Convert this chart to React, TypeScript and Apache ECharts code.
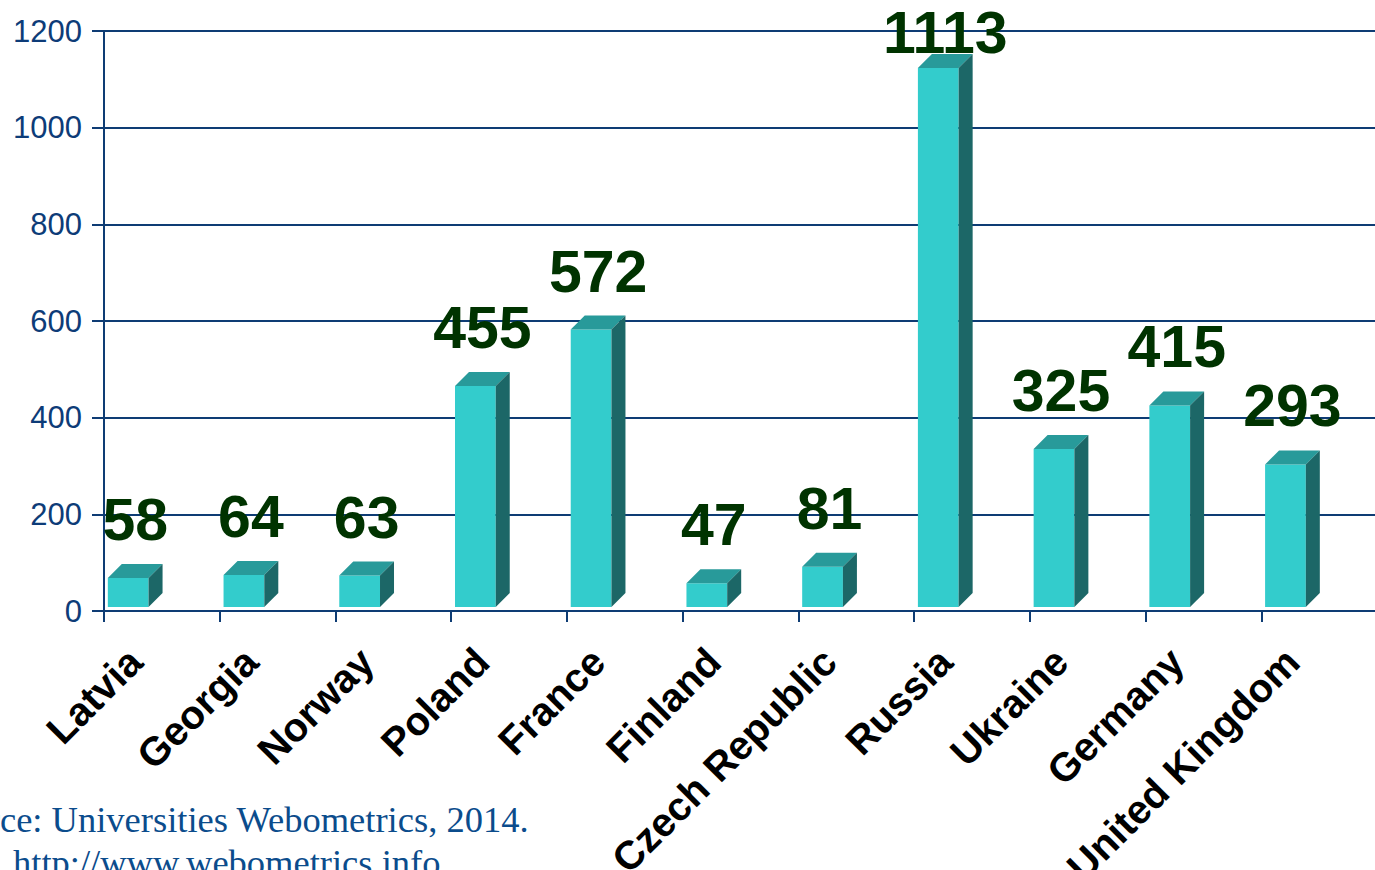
import React, { useEffect, useRef } from "react";
import * as echarts from "echarts";

const categories = [
  "Latvia",
  "Georgia",
  "Norway",
  "Poland",
  "France",
  "Finland",
  "Czech Republic",
  "Russia",
  "Ukraine",
  "Germany",
  "United Kingdom",
];
const values = [58, 64, 63, 455, 572, 47, 81, 1113, 325, 415, 293];
const yMin = 0;
const yMax = 1200;
const yInterval = 200;
const sourceLine1 = "Source: Universities Webometrics, 2014.";
const sourceLine2 = "http://www.webometrics.info";

const NAVY = "#0E3C74";

export default function App() {
  const ref = useRef<HTMLDivElement>(null);
  useEffect(() => {
    if (!ref.current) return;
    const chart = echarts.init(ref.current, undefined, { renderer: "svg" });
    const renderItem = (params: any, api: any) => {
      const idx = api.value(0);
      const val = api.value(1);
      const top = api.coord([idx, val]);
      const base = api.coord([idx, 0]);
      const bw = api.size([1, 0])[0];
      const cx = top[0];
      const fl = cx - 0.467 * bw;
      const fw = 0.352 * bw;
      const fr = fl + fw;
      const d = 0.121 * bw;
      const fb = base[1] - 4;
      const ft = top[1] - 5;
      return {
        type: "group",
        children: [
          {
            type: "rect",
            shape: { x: fl, y: ft, width: fw, height: fb - ft },
            style: { fill: "#33CCCC" },
          },
          {
            type: "polygon",
            shape: {
              points: [
                [fl, ft],
                [fr, ft],
                [fr + d, ft - d],
                [fl + d, ft - d],
              ],
            },
            style: { fill: "#289A9A" },
          },
          {
            type: "polygon",
            shape: {
              points: [
                [fr, ft],
                [fr + d, ft - d],
                [fr + d, fb - d],
                [fr, fb],
              ],
            },
            style: { fill: "#1C6767" },
          },
          {
            type: "text",
            x: (fl + fr + d) / 2,
            y: Math.max(ft - 58, 33),
            style: {
              text: String(val),
              fill: "#003300",
              font: "bold 59px 'Liberation Sans', Arial, sans-serif",
              align: "center",
              verticalAlign: "middle",
            },
          },
        ],
      };
    };
    chart.setOption({
      animation: false,
      grid: {
        left: 104,
        right: -2,
        top: 31,
        bottom: 259,
        containLabel: false,
        outerBoundsMode: "none",
      },
      xAxis: {
        type: "category",
        data: categories,
        boundaryGap: true,
        axisLine: { lineStyle: { color: NAVY, width: 2 } },
        axisTick: { show: true, length: 11, lineStyle: { color: NAVY, width: 2 } },
        axisLabel: {
          rotate: 45,
          interval: 0,
          margin: 17,
          padding: [0, 38, 0, 0],
          color: "#000",
          fontWeight: "bold",
          fontSize: 40,
          fontFamily: "'Liberation Sans', Arial, sans-serif",
        },
      },
      yAxis: {
        type: "value",
        min: yMin,
        max: yMax,
        interval: yInterval,
        axisLine: { show: true, lineStyle: { color: NAVY, width: 2 } },
        axisTick: { show: true, length: 12, lineStyle: { color: NAVY, width: 2 } },
        splitLine: { show: true, lineStyle: { color: NAVY, width: 2 } },
        axisLabel: {
          margin: 22,
          color: "#0D3C78",
          fontSize: 31,
          fontFamily: "'Liberation Sans', Arial, sans-serif",
          formatter: (v: number) => String(v),
        },
      },
      series: [
        {
          type: "custom",
          renderItem,
          data: values.map((v, i) => [i, v]),
          encode: { x: 0, y: 1 },
          clip: false,
        },
      ],
      graphic: [
        {
          type: "text",
          x: -69,
          y: 838,
          style: {
            text: sourceLine1,
            fill: "#0B4C8C",
            font: "36.5px 'Liberation Serif', 'Times New Roman', serif",
            verticalAlign: "bottom",
          },
        },
        {
          type: "text",
          x: 13,
          y: 881,
          style: {
            text: sourceLine2,
            fill: "#0B4C8C",
            font: "36.5px 'Liberation Serif', 'Times New Roman', serif",
            verticalAlign: "bottom",
          },
        },
      ],
    });
    return () => chart.dispose();
  }, []);
  return (
    <div
      ref={ref}
      style={{ position: "fixed", left: 0, top: 0, width: 1375, height: 870, background: "#fff" }}
    />
  );
}
